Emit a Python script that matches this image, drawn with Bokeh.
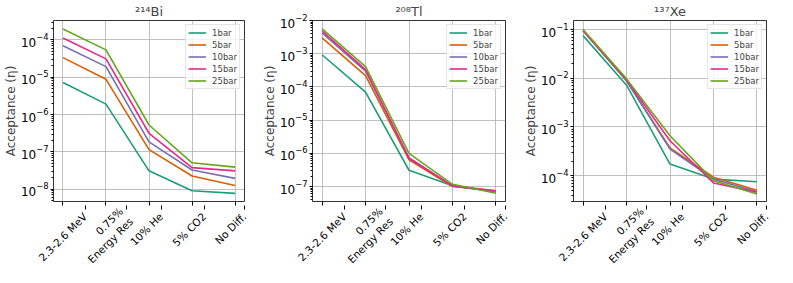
import math
from bokeh.plotting import figure
from bokeh.layouts import row
from bokeh.models import (Range1d, FixedTicker, Legend, LegendItem, LinearAxis,
                          CustomJSTickFormatter)
from bokeh.embed import file_html
from bokeh.resources import INLINE

categories = ["2.3-2.6 MeV", "0.75%\nEnergy Res", "10% He", "5% CO2", "No Diff."]
pressures = ["1bar", "5bar", "10bar", "15bar", "25bar"]
colors = ["#1b9e77", "#d95f02", "#7570b3", "#e7298a", "#66a61e"]

bi214 = {
    "1bar":  [7.2e-6, 1.9e-6, 3.1e-8, 9.1e-9, 7.7e-9],
    "5bar":  [3.35e-5, 8.8e-6, 1.15e-7, 2.26e-8, 1.26e-8],
    "10bar": [7.0e-5, 1.92e-5, 1.85e-7, 3.26e-8, 1.95e-8],
    "15bar": [1.13e-4, 3.1e-5, 3.15e-7, 3.78e-8, 3.1e-8],
    "25bar": [1.96e-4, 5.4e-5, 5.25e-7, 5.1e-8, 3.9e-8],
}
tl208 = {
    "1bar":  [9.3e-4, 7.0e-5, 3.1e-7, 1.05e-7, 7.1e-8],
    "5bar":  [3.0e-3, 2.2e-4, 6.4e-7, 1.0e-7, 7.4e-8],
    "10bar": [4.2e-3, 3.0e-4, 7.4e-7, 1.05e-7, 7.0e-8],
    "15bar": [4.8e-3, 3.3e-4, 7.0e-7, 1.05e-7, 7.4e-8],
    "25bar": [5.6e-3, 4.1e-4, 1.0e-6, 1.17e-7, 6.3e-8],
}
xe137 = {
    "1bar":  [7.5e-2, 7.2e-3, 1.73e-4, 8.5e-5, 7.5e-5],
    "5bar":  [9.5e-2, 8.9e-3, 3.7e-4, 9.3e-5, 5.0e-5],
    "10bar": [9.5e-2, 8.9e-3, 3.5e-4, 8.5e-5, 4.7e-5],
    "15bar": [9.5e-2, 9.2e-3, 5.2e-4, 7.1e-5, 4.6e-5],
    "25bar": [1.0e-1, 9.7e-3, 6.6e-4, 7.9e-5, 4.2e-5],
}

panels = [
    ("\u00b2\u00b9\u2074Bi", bi214, (-8.33, -3.48), 50, 15),
    ("\u00b2\u2070\u2078Tl", tl208, (-7.45, -2.0), 51, 13),
    ("\u00b9\u00b3\u2077Xe", xe137, (-4.53, -0.815), 55, 11),
]

FONT = "DejaVu Sans"
XFS = 10.5                 # x tick label font size (px)
X0, X1 = -0.22, 4.22       # x range (matplotlib-like 5% margins)
FRAME_W = 194

figs = []
for title, data, (ylo, yhi), bl, br in panels:
    p = figure(width=259, frame_height=181, y_axis_type="log",
               x_range=Range1d(X0, X1),
               y_range=Range1d(10 ** ylo, 10 ** yhi),
               output_backend="svg", toolbar_location=None,
               min_border_left=bl, min_border_right=br,
               min_border_top=0, min_border_bottom=4)
    p.title.text = title
    p.title.align = "center"
    p.title.text_font = FONT
    p.title.text_font_size = "13px"
    p.title.text_font_style = "normal"
    p.title.offset = 0
    p.title.standoff = 3

    xs = list(range(len(categories)))
    items = []
    for name, c in zip(pressures, colors):
        r = p.line(xs, data[name], line_color=c, line_width=1.6)
        items.append(LegendItem(label=name, renderers=[r]))
    leg = Legend(items=items, location="top_right")
    leg.label_text_font = FONT
    leg.label_text_font_size = "8.5px"
    leg.label_height = 11
    leg.glyph_height = 11
    leg.glyph_width = 18
    leg.spacing = 1
    leg.padding = 2
    leg.margin = 4
    leg.label_standoff = 6
    leg.border_line_color = "#cccccc"
    leg.background_fill_alpha = 0.8
    p.add_layout(leg)

    # main x axis: tick marks only
    p.xaxis.ticker = FixedTicker(ticks=xs)
    p.xaxis.formatter = CustomJSTickFormatter(code="return '';")
    p.xaxis.major_label_standoff = 0
    p.xaxis.minor_tick_line_color = None

    # label axis: rotated labels shifted so each label is centred on its tick
    px_per_unit = FRAME_W / (X1 - X0)
    shifted = []
    for i, cat in enumerate(categories):
        w = max(len(s) for s in cat.split("\n")) * 0.55 * XFS
        t = i + (w / 2 / math.sqrt(2)) / px_per_unit
        shifted.append(min(t, X1 - 0.005))
    lab_axis = LinearAxis(
        ticker=FixedTicker(ticks=shifted),
        formatter=CustomJSTickFormatter(args=dict(labels=categories),
                                        code="return labels[index];"),
        axis_line_color=None, major_tick_line_color=None,
        minor_tick_line_color=None, major_label_standoff=5,
        major_label_orientation=math.pi / 4,
        major_label_text_font=FONT, major_label_text_font_size=f"{XFS}px",
        major_label_text_color="black")
    p.add_layout(lab_axis, "below")

    p.yaxis.axis_label = "Acceptance (\u03b7)"
    for ax in (p.xaxis, p.yaxis):
        ax.major_label_text_font = FONT
        ax.major_label_text_color = "black"
        ax.axis_label_text_font = FONT
        ax.axis_label_text_font_style = "normal"
        ax.axis_label_text_font_size = "12px"
        ax.axis_line_color = None
        ax.major_tick_line_color = "black"
        ax.major_tick_out = 4
        ax.major_tick_in = 0
    p.yaxis.major_tick_out = 3
    p.yaxis.major_label_text_font_size = "12px"
    p.yaxis.major_label_standoff = 2
    p.yaxis.minor_tick_line_color = "black"
    p.yaxis.minor_tick_out = 2
    p.yaxis.minor_tick_in = 0
    p.yaxis.axis_label_standoff = 0

    p.xgrid.ticker = FixedTicker(ticks=xs)
    for g in (p.xgrid, p.ygrid):
        g.grid_line_color = "#b0b0b0"
        g.grid_line_width = 0.8
    p.outline_line_color = "black"
    p.outline_line_width = 0.8
    figs.append(p)

layout = row(*figs)
open("out.html", "w").write(file_html(layout, INLINE))
